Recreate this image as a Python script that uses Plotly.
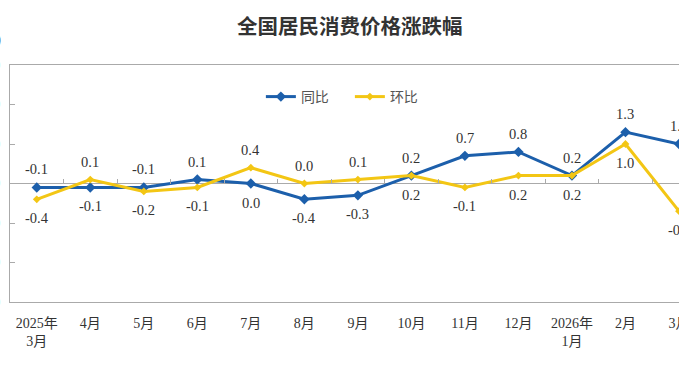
import plotly.graph_objects as go

categories = ["2025年<br>3月", "4月", "5月", "6月", "7月", "8月", "9月", "10月",
              "11月", "12月", "2026年<br>1月", "2月", "3月"]
yoy = [-0.1, -0.1, -0.1, 0.1, 0.0, -0.4, -0.3, 0.2, 0.7, 0.8, 0.2, 1.3, 1.0]
mom = [-0.4, 0.1, -0.2, -0.1, 0.4, 0.0, 0.1, 0.2, -0.1, 0.2, 0.2, 1.0, -0.7]
y_ticks = [-3, -2, -1, 0, 1, 2, 3]

BLUE = "#1c5fab"
YELLOW = "#f3c614"
SERIF = "Liberation Serif, Noto Sans CJK SC, serif"
n = len(categories)

fig = go.Figure()
fig.add_trace(go.Scatter(
    x=categories, y=yoy, name="同比", mode="lines+markers",
    line=dict(color=BLUE, width=3),
    marker=dict(symbol="diamond", size=8, color=BLUE),
    cliponaxis=False))
fig.add_trace(go.Scatter(
    x=categories, y=mom, name="环比", mode="lines+markers",
    line=dict(color=YELLOW, width=3),
    marker=dict(symbol="diamond", size=6, color=YELLOW),
    cliponaxis=False))
# helper trace for boundary tick marks on the zero line
fig.add_trace(go.Scatter(x=[0], y=[0], xaxis="x2", mode="markers",
                         marker=dict(opacity=0), showlegend=False,
                         hoverinfo="skip"))

annotations = []
for i, c in enumerate(categories):
    b_up = yoy[i] >= mom[i]
    for val, up in ((yoy[i], b_up), (mom[i], not b_up)):
        annotations.append(dict(
            x=c, y=val, xref="x", yref="y", text=f"{val:.1f}",
            showarrow=False, yshift=18 if up else -19,
            font=dict(family=SERIF, size=14.5, color="#333333")))
annotations.append(dict(
    x=0, y=1.105, xref="paper", yref="paper", text="(%)", showarrow=False,
    xanchor="right", yanchor="middle", xshift=-7,
    font=dict(family=SERIF, size=14, color="#333")))

fig.update_layout(
    width=679, height=384,
    margin=dict(l=10, r=0, t=65, b=82),
    paper_bgcolor="white", plot_bgcolor="white",
    title=dict(text="全国居民消费价格涨跌幅", x=0.515, xanchor="center",
               y=0.93, yanchor="middle",
               font=dict(family="Noto Sans CJK SC", size=20.5, color="#333333",
                         weight="bold")),
    legend=dict(orientation="h", x=0.375, xanchor="left", y=0.865,
                yanchor="middle", font=dict(family="Noto Sans CJK SC",
                                            size=14, color="#555555"),
                bgcolor="rgba(0,0,0,0)", itemwidth=30,
                entrywidth=44, entrywidthmode="pixels"),
    showlegend=True,
    annotations=annotations,
    xaxis=dict(type="category", categoryorder="array", categoryarray=categories,
               range=[-0.5, n - 1], showgrid=False, zeroline=False,
               showline=True, mirror=True, linecolor="#aaaaaa", linewidth=1,
               ticks="", ticklabelstandoff=8,
               tickfont=dict(family=SERIF, size=14, color="#333333")),
    xaxis2=dict(type="linear", overlaying="x", anchor="free", position=0.5,
                side="bottom", range=[-0.5, n - 1],
                tickvals=[i + 0.5 for i in range(n - 1)],
                ticks="inside", ticklen=5, tickcolor="#aaaaaa",
                showticklabels=False, showgrid=False, zeroline=False,
                showline=False),
    yaxis=dict(range=[-3, 3], tickvals=y_ticks, tickformat=".1f",
               showgrid=False, zeroline=True, zerolinecolor="#aaaaaa",
               zerolinewidth=1, showline=True, linecolor="#aaaaaa",
               linewidth=1, ticks="inside", ticklen=5, tickcolor="#aaaaaa",
               ticklabelstandoff=6, automargin=False,
               tickfont=dict(family=SERIF, size=14, color="#333333")),
)
fig.update_xaxes(automargin=False)

fig.write_html("out.html",
               config={"displayModeBar": False},
               post_script="document.body.style.margin='0';"
                           "document.body.style.overflow='hidden';")
